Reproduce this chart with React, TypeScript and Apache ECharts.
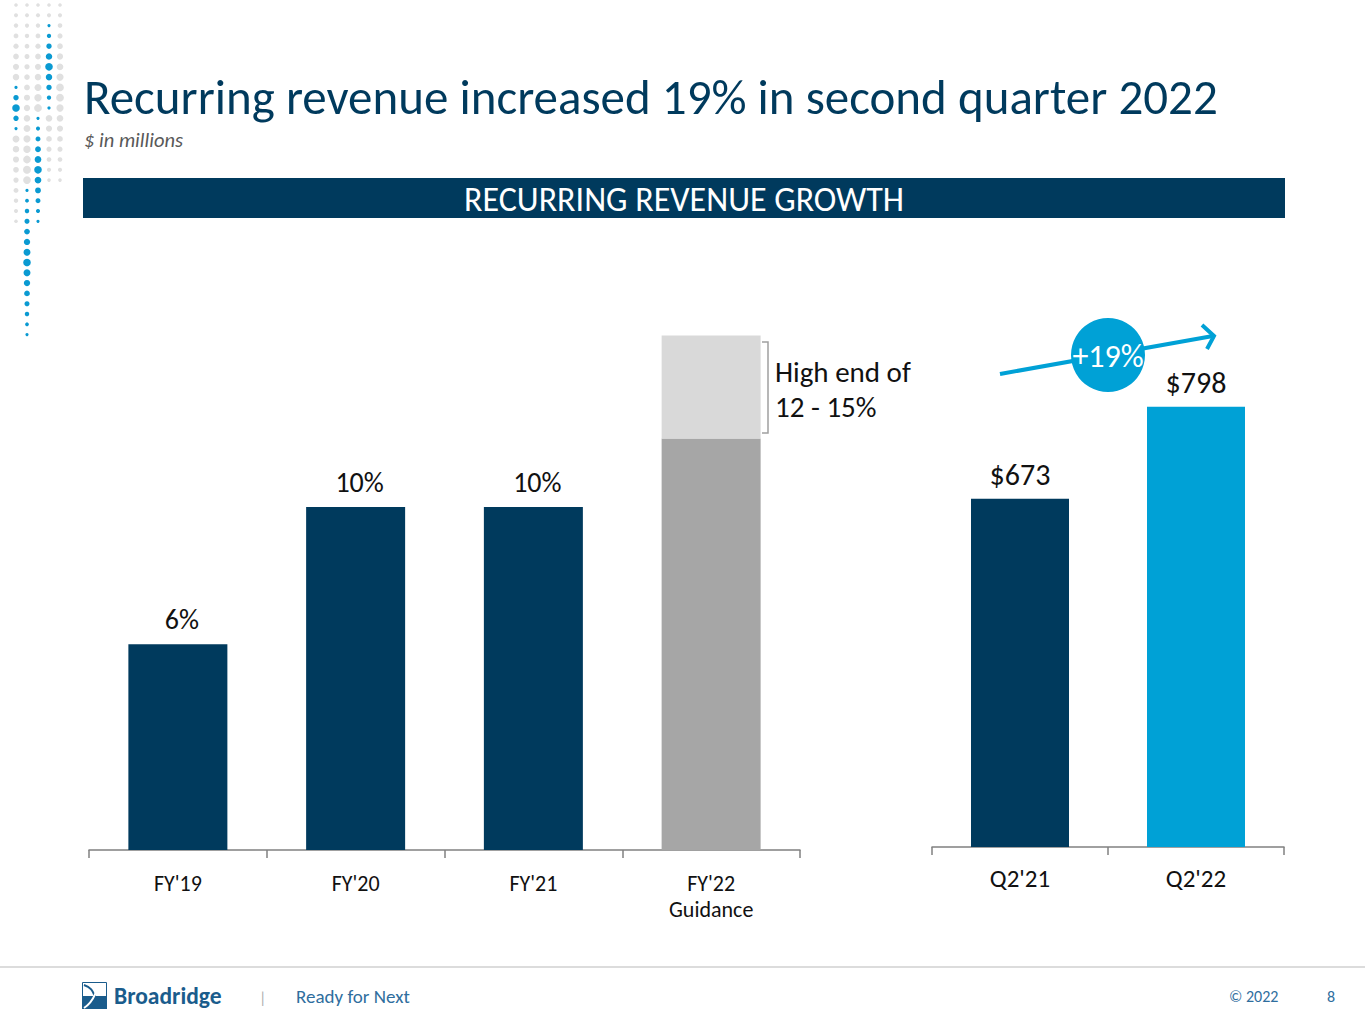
import React, { useEffect, useRef } from "react";
import * as echarts from "echarts";

// chart values
const fiscalYears = ["FY'19", "FY'20", "FY'21", "FY'22\nGuidance"];
const growthBase = [6, 10, 10, 12];
const growthHighEnd = [null, null, null, 3]; // 12% -> 15%
const growthLabels = ["6%", "10%", "10%", ""];
const quarters = ["Q2'21", "Q2'22"];
const recurringRevenue = [673, 798];
const revenueLabels = ["$673", "$798"];

const NAVY = "#003A5D";
const BLUE = "#00A1D6";
const GREY = "#A6A6A6";
const LIGHT_GREY = "#D9D9D9";
const FOOT_BLUE = "#2F6E9E";
const FONT = "Carlito, Lato, 'Open Sans', sans-serif";

// decorative dot columns: [x, first row, last row, blue from, blue to]
const dotColumns = [
  [16, 0, 21, 8, 12],
  [27, 0, 32, 18, 32],
  [38, 0, 21, 11, 21],
  [49, 0, 17, 2, 10],
  [60, 0, 17, -1, -1],
];

function dotGraphics() {
  const out: any[] = [];
  dotColumns.forEach(([x, r0, r1, b0, b1]) => {
    for (let r = r0; r <= r1; r++) {
      const blue = r >= b0 && r <= b1;
      const mid = blue ? (b0 + b1) / 2 : (r0 + r1) / 2;
      const span = blue ? Math.max(1, (b1 - b0) / 2) : Math.max(1, (r1 - r0) / 2);
      const rad = (blue ? 1.6 : 1.8) + 2.2 * (1 - Math.min(1, Math.abs(r - mid) / span));
      out.push({
        type: "circle",
        shape: { cx: x, cy: 5 + r * 10.3, r: rad },
        style: { fill: blue ? "#0A9AD2" : "#E0E0E0" },
        silent: true,
      });
    }
  });
  return out;
}

const App: React.FC = () => {
  const chartRef = useRef<HTMLDivElement>(null);

  useEffect(() => {
    document.body.style.margin = "0";
    const chart = echarts.init(chartRef.current!, null, { renderer: "svg" });

    const axisLine = { lineStyle: { color: "#808080", width: 1.5 } };
    const axisTick = { show: true, length: 8, lineStyle: { color: "#808080", width: 1.5 } };

    chart.setOption({
      animation: false,
      backgroundColor: "#ffffff",
      textStyle: { fontFamily: FONT },
      grid: [
        { left: 89, width: 711, top: 164, height: 686 },
        { left: 932, width: 352, top: 258, height: 589 },
      ],
      xAxis: [
        {
          gridIndex: 0,
          type: "category",
          data: fiscalYears,
          axisLine,
          axisTick,
          axisLabel: { fontSize: 22, color: "#111", margin: 20, lineHeight: 26.5, fontFamily: FONT },
        },
        {
          gridIndex: 1,
          type: "category",
          data: quarters,
          axisLine,
          axisTick,
          axisLabel: { fontSize: 25, color: "#111", margin: 19, fontFamily: FONT },
        },
      ],
      yAxis: [
        { gridIndex: 0, type: "value", min: 0, max: 20, show: false },
        { gridIndex: 1, type: "value", min: 200, max: 1000, startValue: 200, show: false },
      ],
      series: [
        {
          type: "bar",
          xAxisIndex: 0,
          yAxisIndex: 0,
          stack: "growth",
          barWidth: 99,
          data: growthBase.map((v, i) => ({
            value: v,
            itemStyle: { color: i < 3 ? NAVY : GREY },
          })),
          label: {
            show: true,
            position: "top",
            distance: 11,
            offset: [4, 0],
            fontSize: 28,
            color: "#111",
            fontFamily: FONT,
            formatter: (p: any) => growthLabels[p.dataIndex],
          },
        },
        {
          type: "bar",
          xAxisIndex: 0,
          yAxisIndex: 0,
          stack: "growth",
          barWidth: 99,
          data: growthHighEnd,
          itemStyle: { color: LIGHT_GREY },
        },
        {
          type: "bar",
          xAxisIndex: 1,
          yAxisIndex: 1,
          barWidth: 98,
          clip: true,
          data: recurringRevenue.map((v, i) => ({
            value: v,
            itemStyle: { color: i === 0 ? NAVY : BLUE },
          })),
          label: {
            show: true,
            position: "top",
            distance: 9,
            fontSize: 30,
            color: "#111",
            fontFamily: FONT,
            formatter: (p: any) => revenueLabels[p.dataIndex],
          },
        },
      ],
      graphic: [
        ...dotGraphics(),
        {
          type: "text",
          x: 84,
          y: 97,
          style: {
            text: "Recurring revenue increased 19% in second quarter 2022",
            fontSize: 49,
            fill: NAVY,
            verticalAlign: "middle",
            fontFamily: FONT,
          },
        },
        {
          type: "text",
          x: 84,
          y: 140,
          style: {
            text: "$ in millions",
            fontSize: 20.5,
            fontStyle: "italic",
            fill: "#595959",
            verticalAlign: "middle",
            fontFamily: FONT,
          },
        },
        {
          type: "rect",
          shape: { x: 83, y: 178, width: 1202, height: 40 },
          style: { fill: NAVY },
        },
        {
          type: "text",
          x: 684,
          y: 199,
          style: {
            text: "RECURRING REVENUE GROWTH",
            fontSize: 34,
            fill: "#fff",
            align: "center",
            verticalAlign: "middle",
            fontFamily: FONT,
          },
        },
        // bracket for the guidance range
        {
          type: "polyline",
          shape: { points: [[762, 342], [768, 342], [768, 433], [762, 433]] },
          style: { stroke: "#A0A0A0", lineWidth: 1.5, fill: "none" },
        },
        {
          type: "text",
          x: 775,
          y: 389,
          style: {
            text: "High end of\n12 - 15%",
            fontSize: 29,
            lineHeight: 35,
            fill: "#111",
            verticalAlign: "middle",
            fontFamily: FONT,
          },
        },
        // growth arrow
        {
          type: "line",
          shape: { x1: 1000, y1: 374, x2: 1213, y2: 336 },
          style: { stroke: BLUE, lineWidth: 4 },
        },
        {
          type: "polyline",
          shape: { points: [[1202, 325], [1214, 336], [1207, 349]] },
          style: { stroke: BLUE, lineWidth: 4, fill: "none" },
        },
        {
          type: "circle",
          shape: { cx: 1108, cy: 355, r: 37 },
          style: { fill: BLUE },
        },
        {
          type: "text",
          x: 1108,
          y: 356,
          style: {
            text: "+19%",
            fontSize: 32,
            fill: "#fff",
            align: "center",
            verticalAlign: "middle",
            fontFamily: FONT,
          },
        },
        // footer
        {
          type: "line",
          shape: { x1: 0, y1: 967, x2: 1365, y2: 967 },
          style: { stroke: "#D0D0D0", lineWidth: 1.5 },
        },
        {
          type: "rect",
          shape: { x: 82, y: 996, width: 25, height: 13 },
          style: { fill: "#1A5C8C" },
        },
        {
          type: "rect",
          shape: { x: 82.5, y: 982.5, width: 24, height: 26 },
          style: { fill: "none", stroke: "#1A5C8C", lineWidth: 1 },
        },
        {
          type: "bezierCurve",
          shape: { x1: 84, y1: 985, cpx1: 98, cpy1: 990, x2: 105, y2: 1008, cpx2: 90, cpy2: 998 },
          style: { stroke: "#1A5C8C", lineWidth: 2, fill: "none" },
        },
        {
          type: "bezierCurve",
          shape: { x1: 105, y1: 985, cpx1: 91, cpy1: 990, x2: 84, y2: 1008, cpx2: 99, cpy2: 998 },
          style: { stroke: "#ffffff", lineWidth: 2, fill: "none" },
        },
        {
          type: "text",
          x: 114,
          y: 996,
          style: {
            text: "Broadridge",
            fontSize: 23.5,
            fontWeight: "bold",
            fill: "#1A5C8C",
            verticalAlign: "middle",
            fontFamily: FONT,
          },
        },
        {
          type: "text",
          x: 259,
          y: 997,
          style: { text: "|", fontSize: 16, fill: "#B0B0B0", verticalAlign: "middle", fontFamily: FONT },
        },
        {
          type: "text",
          x: 296,
          y: 996,
          style: {
            text: "Ready for Next",
            fontSize: 19,
            fontWeight: 300,
            fill: FOOT_BLUE,
            verticalAlign: "middle",
            fontFamily: FONT,
          },
        },
        {
          type: "text",
          x: 1229,
          y: 996,
          style: { text: "© 2022", fontSize: 16, fill: FOOT_BLUE, verticalAlign: "middle", fontFamily: FONT },
        },
        {
          type: "text",
          x: 1327,
          y: 996,
          style: { text: "8", fontSize: 16, fill: FOOT_BLUE, verticalAlign: "middle", fontFamily: FONT },
        },
      ],
    });

    return () => {
      chart.dispose();
    };
  }, []);

  return (
    <div
      ref={chartRef}
      style={{ position: "absolute", left: 0, top: 0, width: 1365, height: 1024 }}
    />
  );
};

export default App;
